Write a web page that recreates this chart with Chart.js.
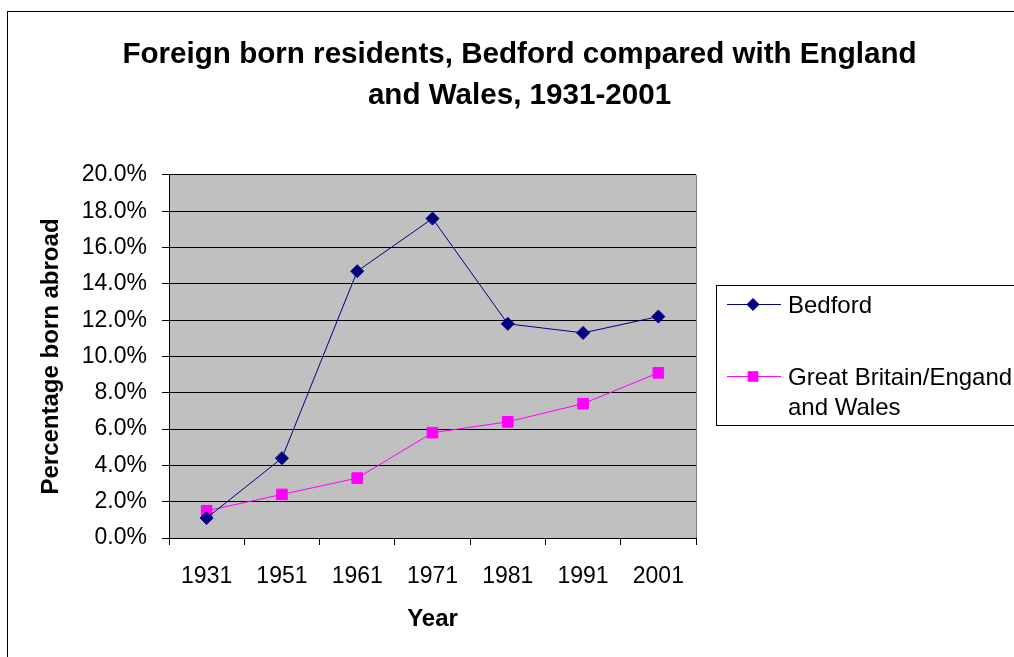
<!DOCTYPE html>
<html>
<head>
<meta charset="utf-8">
<script src="https://cdn.jsdelivr.net/npm/chart.js@4.4.1/dist/chart.umd.min.js"></script>
<style>
  html, body { margin: 0; padding: 0; background: #fff; }
  #wrap { width: 1014px; height: 657px; position: relative; }
</style>
</head>
<body>
<div id="wrap"><canvas id="c"></canvas></div>
<script>
const titleLines = ['Foreign born residents, Bedford compared with England', 'and Wales, 1931-2001'];
const years = ['1931', '1951', '1961', '1971', '1981', '1991', '2001'];
const bedford = [1.1, 4.4, 14.7, 17.6, 11.8, 11.3, 12.2];
const englandWales = [1.5, 2.4, 3.3, 5.8, 6.4, 7.4, 9.1];
const seriesNames = ['Bedford', 'Great Britain/Engand and Wales'];
const legendLines = [['Bedford'], ['Great Britain/Engand', 'and Wales']];
const yAxisTitle = 'Percentage born abroad';
const xAxisTitle = 'Year';

const FONT = 'Arial, "Liberation Sans", sans-serif';
const NAVY = '#000080';
const MAGENTA = '#FF00FF';

const framePlugin = {
  id: 'frame',
  beforeDraw(chart) {
    const ctx = chart.ctx;
    const a = chart.chartArea;
    ctx.save();
    ctx.fillStyle = '#ffffff';
    ctx.fillRect(0, 0, chart.width, chart.height);
    ctx.strokeStyle = '#000000';
    ctx.lineWidth = 1;
    ctx.strokeRect(7.5, 11.5, chart.width + 20, chart.height + 20);
    ctx.fillStyle = '#C0C0C0';
    ctx.fillRect(a.left, a.top, a.right - a.left, a.bottom - a.top);
    ctx.restore();
  },
  beforeDatasetsDraw(chart) {
    const ctx = chart.ctx;
    const a = chart.chartArea;
    ctx.save();
    ctx.strokeStyle = '#808080';
    ctx.lineWidth = 1;
    ctx.beginPath();
    ctx.moveTo(Math.round(a.right) + 0.5, a.top);
    ctx.lineTo(Math.round(a.right) + 0.5, a.bottom);
    ctx.stroke();
    ctx.restore();
  },
  afterDraw(chart) {
    const ctx = chart.ctx;
    ctx.save();
    ctx.strokeStyle = '#000000';
    ctx.lineWidth = 1;
    ctx.strokeRect(716.5, 285.5, 400, 140);
    const items = [
      { y: 304, color: NAVY, style: 'rectRot', radius: 6.5, lines: legendLines[0] },
      { y: 376, color: MAGENTA, style: 'rect', radius: 7.5, lines: legendLines[1] }
    ];
    items.forEach(it => {
      ctx.strokeStyle = it.color;
      ctx.lineWidth = 1;
      ctx.beginPath();
      ctx.moveTo(727, it.y + 0.5);
      ctx.lineTo(781, it.y + 0.5);
      ctx.stroke();
      ctx.fillStyle = it.color;
      ctx.beginPath();
      if (it.style === 'rectRot') {
        const r = it.radius;
        ctx.moveTo(753 - r, it.y + 0.5);
        ctx.lineTo(753, it.y + 0.5 - r);
        ctx.lineTo(753 + r, it.y + 0.5);
        ctx.lineTo(753, it.y + 0.5 + r);
        ctx.closePath();
      } else {
        const s = it.radius * Math.SQRT1_2;
        ctx.rect(753 - s, it.y + 0.5 - s, 2 * s, 2 * s);
      }
      ctx.fill();
      ctx.fillStyle = '#000000';
      ctx.font = '24px ' + FONT;
      ctx.textBaseline = 'middle';
      ctx.textAlign = 'left';
      it.lines.forEach((t, i) => ctx.fillText(t, 788, it.y + 2 + i * 30));
    });
    ctx.restore();
  }
};

new Chart(document.getElementById('c'), {
  type: 'line',
  data: {
    labels: years,
    datasets: [
      {
        label: seriesNames[0],
        data: bedford,
        borderColor: NAVY,
        backgroundColor: NAVY,
        borderWidth: 1,
        pointStyle: 'rectRot',
        pointRadius: 6.5,
        pointBorderWidth: 1,
        tension: 0
      },
      {
        label: seriesNames[1],
        data: englandWales,
        borderColor: MAGENTA,
        backgroundColor: MAGENTA,
        borderWidth: 1,
        pointStyle: 'rect',
        pointRadius: 7.5,
        pointBorderWidth: 1,
        tension: 0
      }
    ]
  },
  options: {
    responsive: true,
    maintainAspectRatio: false,
    animation: false,
    devicePixelRatio: 1,
    layout: { padding: { left: 25, right: 0, top: 0, bottom: 0 } },
    plugins: {
      legend: { display: false },
      tooltip: { enabled: false },
      title: {
        display: true,
        text: titleLines,
        color: '#000000',
        font: { family: FONT, size: 29.6, weight: 'bold', lineHeight: 1.385 },
        padding: { top: 34, bottom: 59 }
      }
    },
    scales: {
      x: {
        type: 'category',
        offset: true,
        afterFit(s) { s.height = 119; },
        grid: { offset: true, drawOnChartArea: false, drawTicks: true, tickLength: 7, color: '#000000' },
        border: { display: true, color: '#000000', width: 1 },
        ticks: { color: '#000000', font: { family: FONT, size: 23 }, padding: 18, maxRotation: 0, autoSkip: false },
        title: { display: true, text: xAxisTitle, color: '#000000', font: { family: FONT, size: 24, weight: 'bold' }, padding: { top: 0, bottom: 23 } }
      },
      y: {
        min: 0,
        max: 20,
        afterFit(s) { s.width = 144; },
        grid: { color: '#000000', drawTicks: true, tickLength: 7 },
        border: { display: true, color: '#000000', width: 1 },
        ticks: { stepSize: 2, color: '#000000', font: { family: FONT, size: 23 }, padding: 15, callback: v => Number(v).toFixed(1) + '%' },
        title: { display: true, text: yAxisTitle, color: '#000000', font: { family: FONT, size: 24, weight: 'bold' }, padding: { top: 12, bottom: 0 } }
      },
      yRightSpace: {
        position: 'right',
        min: 0,
        max: 1,
        afterFit(s) { s.width = 318; },
        grid: { display: false },
        border: { display: false },
        ticks: { display: false },
        title: { display: false }
      }
    }
  },
  plugins: [framePlugin]
});
</script>
</body>
</html>
